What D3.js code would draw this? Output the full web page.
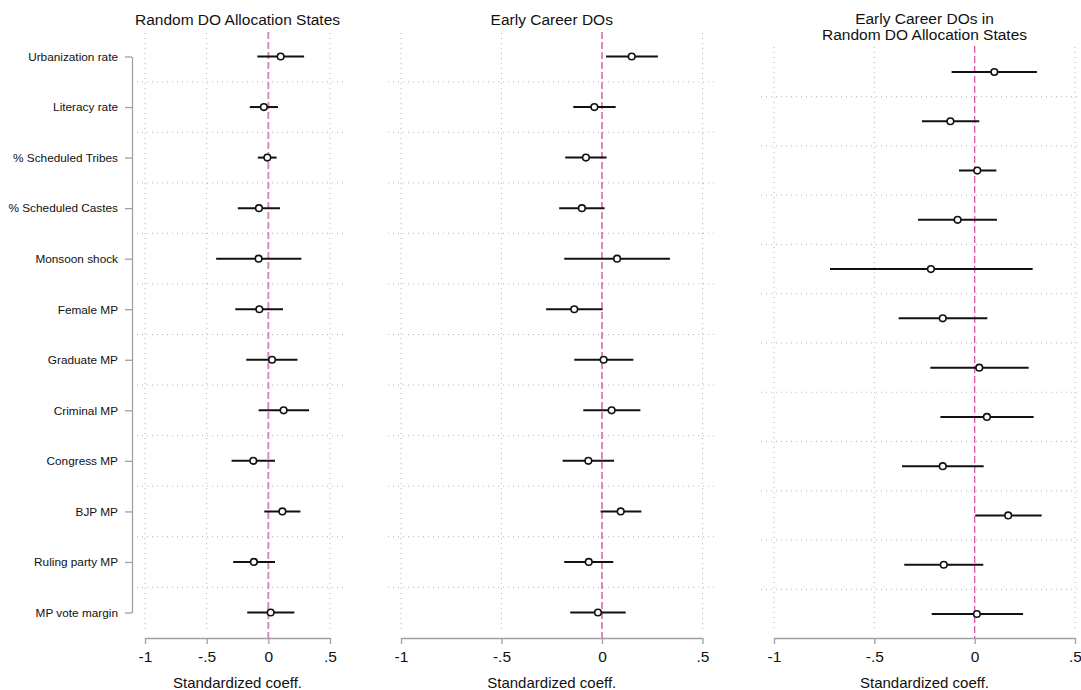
<!DOCTYPE html>
<html>
<head>
<meta charset="utf-8">
<script src="https://cdn.jsdelivr.net/npm/d3@7"></script>
<style>
  body { margin: 0; background: #fff; }
  svg { display: block; font-family: Helvetica, Arial, "Liberation Sans", sans-serif; }
</style>
</head>
<body>
<div class="coef-plot-container"></div>
<script>
// coefficient plots: one row per covariate, point estimate + 95% CI

const variables = [
   'Urbanization rate', 'Literacy rate', '% Scheduled Tribes', '% Scheduled Castes',
   'Monsoon shock', 'Female MP', 'Graduate MP', 'Criminal MP',
   'Congress MP', 'BJP MP', 'Ruling party MP', 'MP vote margin'
];

const x_ticks = [-1, -0.5, 0, 0.5];
const x_tick_labels = ['-1', '-.5', '0', '.5'];
const x_title = 'Standardized coeff.';

// panel 1: Random DO Allocation States
const random_states_coef = [0.100, -0.036, -0.008, -0.076, -0.079, -0.073, 0.030, 0.124, -0.122, 0.114, -0.117, 0.019];
const random_states_lo   = [-0.089, -0.150, -0.085, -0.247, -0.423, -0.268, -0.179, -0.079, -0.298, -0.033, -0.285, -0.171];
const random_states_hi   = [0.290, 0.078, 0.067, 0.094, 0.268, 0.119, 0.236, 0.330, 0.054, 0.260, 0.054, 0.211];

// panel 2: Early Career DOs
const early_career_coef = [0.148, -0.038, -0.080, -0.100, 0.075, -0.138, 0.008, 0.048, -0.068, 0.093, -0.066, -0.020];
const early_career_lo   = [0.020, -0.143, -0.183, -0.213, -0.188, -0.278, -0.138, -0.093, -0.196, -0.007, -0.188, -0.158];
const early_career_hi   = [0.278, 0.068, 0.023, 0.013, 0.338, 0.003, 0.156, 0.191, 0.060, 0.196, 0.056, 0.118];

// panel 3: Early Career DOs in Random DO Allocation States
const early_random_coef = [0.098, -0.121, 0.013, -0.085, -0.218, -0.159, 0.023, 0.061, -0.159, 0.167, -0.154, 0.011];
const early_random_lo   = [-0.115, -0.263, -0.078, -0.282, -0.721, -0.379, -0.221, -0.171, -0.362, 0.003, -0.351, -0.214];
const early_random_hi   = [0.310, 0.023, 0.108, 0.111, 0.289, 0.063, 0.269, 0.294, 0.045, 0.334, 0.043, 0.241];

function build_rows(coef, lo, hi) {
   return variables.map((v, i) => ({name: v, coef: coef[i], lo: lo[i], hi: hi[i]}));
}

const panels = [
   {
      title: ['Random DO Allocation States'],
      rows: build_rows(random_states_coef, random_states_lo, random_states_hi),
      x_range: [145, 330], y_range: [56.5, 612.5], top: 33,
      y_axis: true, zero_color: '#d98cba', zero_width: 2
   },
   {
      title: ['Early Career DOs'],
      rows: build_rows(early_career_coef, early_career_lo, early_career_hi),
      x_range: [401, 702.5], y_range: [56.5, 612.5], top: 33,
      y_axis: false, zero_color: '#d98cba', zero_width: 2
   },
   {
      title: ['Early Career DOs in', 'Random DO Allocation States'],
      rows: build_rows(early_random_coef, early_random_lo, early_random_hi),
      x_range: [774, 1075], y_range: [72, 614], top: 47,
      y_axis: false, zero_color: '#d65aa2', zero_width: 1.3
   }
];

const axis_y = 638;
const grid_color = '#b8b8b8';
const axis_color = '#a0a0a0';

function build_container(width, height) {
   return d3.select('.coef-plot-container')
      .append('svg')
      .attr('width', width)
      .attr('height', height);
}

function draw_panel(svg, panel) {
   const x_scale = d3.scaleLinear().domain([-1, 0.5]).range(panel.x_range);
   const y_scale = d3.scalePoint().domain(variables).range(panel.y_range);
   const step = y_scale.step();
   const pad = 13;
   const left = x_scale(-1) - pad;
   const right = x_scale(0.5) + pad;
   const g = svg.append('g').attr('class', 'panel');

   // vertical dotted grid at the ticks (0 is covered by the reference line)
   g.append('g')
      .selectAll('line')
      .data(x_ticks.filter(d => d !== 0))
      .enter()
      .append('line')
      .attr('x1', d => x_scale(d))
      .attr('x2', d => x_scale(d))
      .attr('y1', panel.top)
      .attr('y2', axis_y - 6)
      .style('stroke', grid_color)
      .style('stroke-width', 1)
      .style('stroke-dasharray', '1,4');

   // horizontal dotted lines between rows
   g.append('g')
      .selectAll('line')
      .data(variables.slice(1))
      .enter()
      .append('line')
      .attr('x1', left)
      .attr('x2', right)
      .attr('y1', d => y_scale(d) - step / 2)
      .attr('y2', d => y_scale(d) - step / 2)
      .style('stroke', grid_color)
      .style('stroke-width', 1)
      .style('stroke-dasharray', '1,4');

   // zero line
   g.append('line')
      .attr('x1', x_scale(0))
      .attr('x2', x_scale(0))
      .attr('y1', panel.top - 1)
      .attr('y2', axis_y)
      .style('stroke', panel.zero_color)
      .style('stroke-width', panel.zero_width)
      .style('stroke-dasharray', '7,3');

   // x axis
   const x_axis = d3.axisBottom(x_scale)
      .tickValues(x_ticks)
      .tickFormat((d, i) => x_tick_labels[i])
      .tickSizeOuter(0)
      .tickSizeInner(6)
      .tickPadding(7);

   const xa = g.append('g')
      .attr('class', 'x axis')
      .attr('transform', `translate(0, ${axis_y})`)
      .call(x_axis);
   xa.select('.domain').style('stroke', axis_color).style('stroke-width', 1.3);
   xa.selectAll('.tick line').style('stroke', axis_color).style('stroke-width', 1.3);
   xa.selectAll('.tick text')
      .style('font-size', '15.5px')
      .style('fill', '#111')
      .style('font-family', 'Helvetica, Arial, "Liberation Sans", sans-serif');

   g.append('text')
      .attr('x', (x_scale(-1) + x_scale(0.5)) / 2)
      .attr('y', 688)
      .attr('text-anchor', 'middle')
      .style('font-size', '15px')
      .style('fill', '#111')
      .text(x_title);

   // y axis with labels (first panel only)
   if (panel.y_axis) {
      const y_axis = d3.axisLeft(y_scale)
         .tickSizeOuter(0)
         .tickSizeInner(7)
         .tickPadding(7);
      const ya = g.append('g')
         .attr('class', 'y axis')
         .attr('transform', `translate(${left}, 0)`)
         .call(y_axis);
      ya.select('.domain').style('stroke', axis_color).style('stroke-width', 1.3);
      ya.selectAll('.tick line').style('stroke', axis_color).style('stroke-width', 1.3);
      ya.selectAll('.tick text')
         .style('font-size', '11.8px')
         .style('fill', '#111')
         .style('font-family', 'Helvetica, Arial, "Liberation Sans", sans-serif');
   }

   // title
   const mid = (left + right) / 2;
   const title = g.append('text')
      .attr('text-anchor', 'middle')
      .style('font-size', '15.5px')
      .style('fill', '#111');
   title.selectAll('tspan')
      .data(panel.title)
      .enter()
      .append('tspan')
      .attr('x', mid)
      .attr('y', (d, i) => 24.5 + i * 15.5 - (panel.title.length > 1 ? 0.5 : 0))
      .text(d => d);

   // confidence intervals
   g.append('g')
      .selectAll('line')
      .data(panel.rows)
      .enter()
      .append('line')
      .attr('x1', d => x_scale(d.lo))
      .attr('x2', d => x_scale(d.hi))
      .attr('y1', d => y_scale(d.name))
      .attr('y2', d => y_scale(d.name))
      .style('stroke', '#111')
      .style('stroke-width', 2);

   // point estimates
   g.append('g')
      .selectAll('circle')
      .data(panel.rows)
      .enter()
      .append('circle')
      .attr('cx', d => x_scale(d.coef))
      .attr('cy', d => y_scale(d.name))
      .attr('r', 3.3)
      .style('fill', '#fff')
      .style('stroke', '#111')
      .style('stroke-width', 1.6);
}

function coef_plot_main() {
   const svg = build_container(1081, 690);
   panels.forEach(p => draw_panel(svg, p));
}

coef_plot_main();
</script>
</body>
</html>
